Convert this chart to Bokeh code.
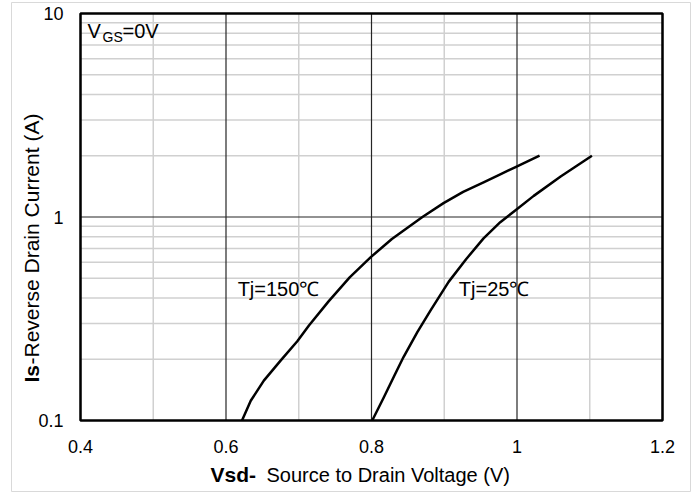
import math
from bokeh.plotting import figure
from bokeh.models import Label, FixedTicker, BoxAnnotation
from bokeh.embed import file_html
from bokeh.resources import INLINE

# ---- data ----
v_150 = [0.622, 0.634, 0.652, 0.675, 0.698, 0.714, 0.741, 0.770, 0.799, 0.828, 0.870, 0.899, 0.926, 0.954, 0.977, 0.998, 1.031]
i_150 = [0.100, 0.125, 0.157, 0.197, 0.245, 0.293, 0.385, 0.505, 0.635, 0.780, 1.000, 1.170, 1.330, 1.480, 1.620, 1.760, 2.000]

v_25 = [0.801, 0.817, 0.831, 0.844, 0.863, 0.881, 0.906, 0.930, 0.954, 0.977, 0.998, 1.023, 1.060, 1.103]
i_25 = [0.100, 0.130, 0.165, 0.205, 0.272, 0.347, 0.480, 0.620, 0.785, 0.943, 1.080, 1.270, 1.580, 2.000]

x_ticks = [0.4, 0.6, 0.8, 1.0, 1.2]
x_tick_labels = ["0.4", "0.6", "0.8", "1", "1.2"]
x_minor = [0.5, 0.7, 0.9, 1.1]

y_ticks = [0.1, 1.0, 10.0]
y_tick_labels = ["0.1", "1", "10"]
y_minor = [0.2, 0.3, 0.4, 0.5, 0.6, 0.7, 0.8, 0.9, 2, 3, 4, 5, 6, 7, 8, 9]

label_150 = "Tj=150\u2103"
label_25 = "Tj=25\u2103"
x_title_bold = "Vsd-"
x_title_rest = "Source to Drain Voltage (V)"
y_title_bold = "Is"
y_title_rest = "-Reverse Drain Current (A)"

FONT = "Liberation Sans"

# ---- layout (pixels) ----
FRAME_W, FRAME_H = 680, 490          # frame = whole chart area (outline = outer border)
BOX_L, BOX_R, BOX_T, BOX_B = 69, 651, 11, 418   # plot box inside the frame

x0, x1 = x_ticks[0], x_ticks[-1]
xpp = (x1 - x0) / (BOX_R - BOX_L)
x_start = x0 - BOX_L * xpp
x_end = x_start + FRAME_W * xpp

ly0, ly1 = math.log10(y_ticks[0]), math.log10(y_ticks[-1])
dpp = (ly1 - ly0) / (BOX_B - BOX_T)
y_top = 10 ** (ly1 + BOX_T * dpp)
y_bot = 10 ** (ly1 - (FRAME_H - BOX_T) * dpp)

p = figure(frame_width=FRAME_W, frame_height=FRAME_H,
           x_range=(x_start, x_end), y_range=(y_bot, y_top), y_axis_type="log",
           output_backend="svg", toolbar_location=None,
           min_border_left=11, min_border_right=0, min_border_top=2, min_border_bottom=0,
           background_fill_color="white", border_fill_color="white")
p.grid.visible = False

p.outline_line_color = "#d9d9d9"
p.outline_line_width = 1

xt = FixedTicker(ticks=x_ticks, minor_ticks=[])
yt = FixedTicker(ticks=y_ticks, minor_ticks=[])
p.xaxis.ticker = xt
p.yaxis.ticker = yt
p.xaxis.fixed_location = y_ticks[0]
p.yaxis.fixed_location = x_ticks[0]
p.xaxis.major_label_overrides = {t: s for t, s in zip(x_ticks, x_tick_labels)}
p.yaxis.major_label_overrides = {t: s for t, s in zip(y_ticks, y_tick_labels)}

for ax in (p.xaxis[0], p.yaxis[0]):
    ax.axis_line_color = None
    ax.major_tick_line_color = None
    ax.minor_tick_line_color = None
    ax.major_tick_in = 0
    ax.major_tick_out = 0
    ax.minor_tick_in = 0
    ax.minor_tick_out = 0
    ax.major_label_text_font = FONT
    ax.major_label_text_font_size = "18px"
    ax.major_label_text_color = "black"
p.xaxis.major_label_standoff = 19
p.yaxis.major_label_standoff = 17

# grid lines (minor light grey, major dark)
n = len(x_minor)
p.segment(x0=x_minor, y0=[y_ticks[0]] * n, x1=x_minor, y1=[y_ticks[-1]] * n,
          line_color="#d0d0d0", line_width=1.5)
n = len(y_minor)
p.segment(x0=[x_ticks[0]] * n, y0=y_minor, x1=[x_ticks[-1]] * n, y1=y_minor,
          line_color="#d0d0d0", line_width=1.5)
n = len(x_ticks)
p.segment(x0=x_ticks, y0=[y_ticks[0]] * n, x1=x_ticks, y1=[y_ticks[-1]] * n,
          line_color="#262626", line_width=1.2)
n = len(y_ticks)
p.segment(x0=[x_ticks[0]] * n, y0=y_ticks, x1=[x_ticks[-1]] * n, y1=y_ticks,
          line_color="#262626", line_width=1.2)

p.line(v_150, i_150, line_color="black", line_width=2.5, line_join="round")
p.line(v_25, i_25, line_color="black", line_width=2.5, line_join="round")

p.add_layout(BoxAnnotation(left=x_ticks[0], right=x_ticks[-1], bottom=y_ticks[0], top=y_ticks[-1],
                           fill_alpha=0, line_color="black", line_width=2.5, line_alpha=1.0))

def lab(text, x, y, xo=0, yo=0, size="20px", bold=False, angle=0.0):
    p.add_layout(Label(x=x, y=y, x_offset=xo, y_offset=yo, text=text,
                       text_font=FONT, text_font_size=size,
                       text_font_style="bold" if bold else "normal",
                       text_color="black", text_baseline="middle",
                       text_align="left", angle=angle))

# curve labels (positions are text centre lines)
lab(label_150, 0.616, 0.443)
lab(label_25, 0.92, 0.443)

# V_GS = 0V
lab("V", x0, y_ticks[-1], xo=7, yo=-17.5)
lab("GS", x0, y_ticks[-1], xo=22, yo=-23.5, size="14px")
lab("=0V", x0, y_ticks[-1], xo=42, yo=-17.5)

# axis titles
lab(x_title_bold, x0, y_ticks[0], xo=130, yo=-54, size="21px", bold=True)
lab(x_title_rest, x0, y_ticks[0], xo=186, yo=-54)
lab(y_title_bold, x0, y_ticks[0], xo=-49, yo=38, size="21px", bold=True, angle=math.pi / 2)
lab(y_title_rest, x0, y_ticks[0], xo=-49, yo=56, size="21px", angle=math.pi / 2)

open("out.html", "w").write(file_html(p, INLINE))
